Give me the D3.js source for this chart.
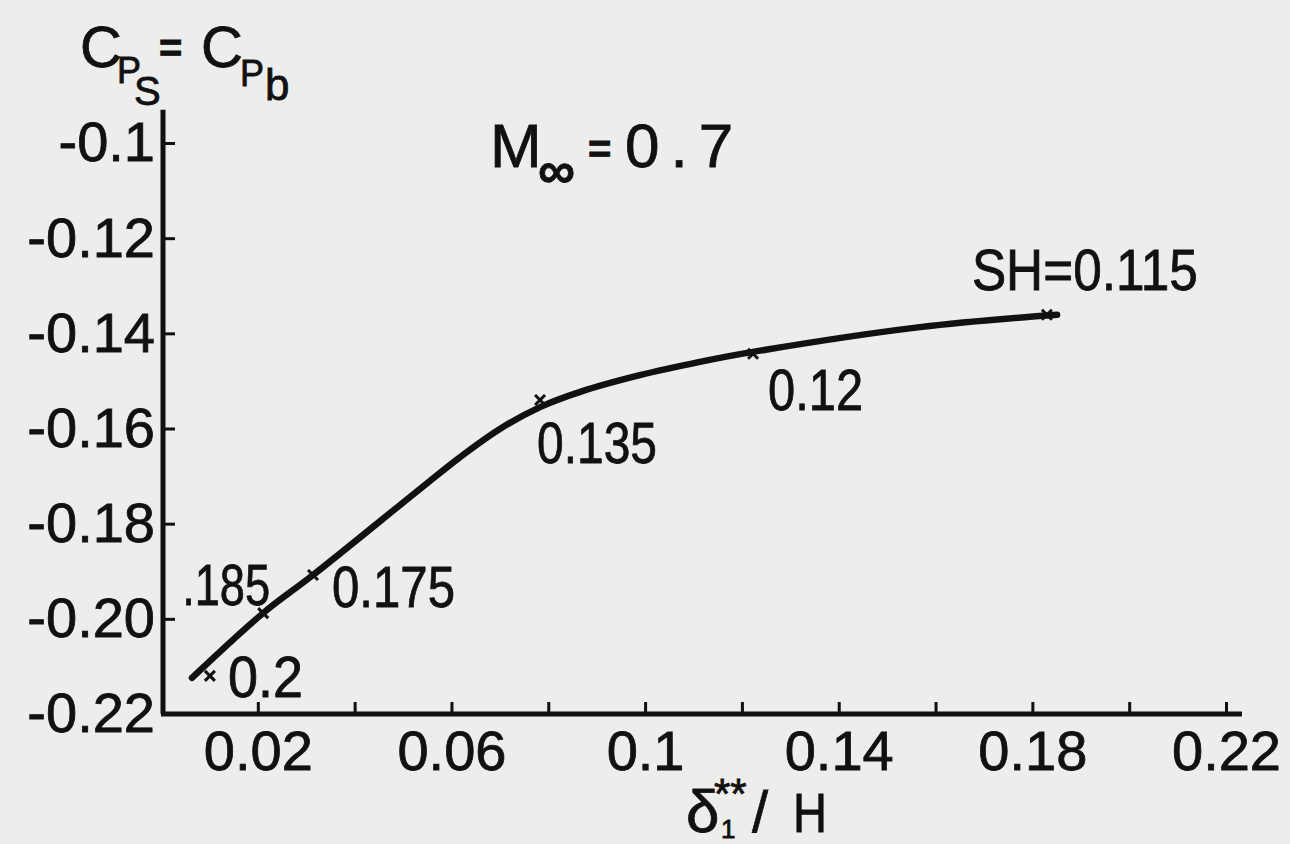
<!DOCTYPE html>
<html>
<head>
<meta charset="utf-8">
<script src="https://cdn.jsdelivr.net/npm/d3@7"></script>
<style>
  body { margin: 0; background: #ededeb; }
  svg { display: block; }
  text { font-family: "Liberation Sans", Arial, sans-serif; fill: #111; stroke: #111; stroke-width: 0.8px; }
</style>
</head>
<body>
<svg id="chart"></svg>
<script>
// Measured points: x = delta_1** / H, y = Cps = Cpb, with the SH value of each
const pointX = [0.0101, 0.0211, 0.0314, 0.0783, 0.1223, 0.1830];
const pointY = [-0.2120, -0.1988, -0.1908, -0.1540, -0.1443, -0.1361];
const pointLabels = ['0.2', '.185', '0.175', '0.135', '0.12', 'SH=0.115'];

// Faired curve
const curveX = [0.0064, 0.0211, 0.0314, 0.0535, 0.0618, 0.0700, 0.0783, 0.0866, 0.0989, 0.1113, 0.1223, 0.1568, 0.1851];
const curveY = [-0.2124, -0.1988, -0.1908, -0.1727, -0.1660, -0.1601, -0.1555, -0.1523, -0.1488, -0.1460, -0.1439, -0.1387, -0.1361];

// Axes
const xTicks = [0.02, 0.04, 0.06, 0.08, 0.1, 0.12, 0.14, 0.16, 0.18, 0.2, 0.22];
const xTickLabels = ['0.02', '', '0.06', '', '0.1', '', '0.14', '', '0.18', '', '0.22'];
const yTicks = [-0.1, -0.12, -0.14, -0.16, -0.18, -0.2, -0.22];
const yTickLabels = ['-0.1', '-0.12', '-0.14', '-0.16', '-0.18', '-0.20', '-0.22'];

const width = 1290;
const height = 844;
const ink = '#111';

const svg = d3.select('#chart')
  .attr('width', width)
  .attr('height', height);

const x = d3.scaleLinear().domain([0, 0.22]).range([161, 1226]);
const y = d3.scaleLinear().domain([-0.22, -0.1]).range([714, 143]);

// Axis lines run a little past the last tick, like the original drawing
svg.append('line')
  .attr('x1', x(0) + 2).attr('x2', x(0) + 2)
  .attr('y1', y(-0.093)).attr('y2', y(-0.22))
  .attr('stroke', ink).attr('stroke-width', 5);

svg.append('line')
  .attr('x1', x(0)).attr('x2', x(0.2233))
  .attr('y1', y(-0.22)).attr('y2', y(-0.22))
  .attr('stroke', ink).attr('stroke-width', 5);

const xAxis = d3.axisBottom(x)
  .tickValues(xTicks)
  .tickFormat((d, i) => xTickLabels[i])
  .tickSizeInner(-12)
  .tickSizeOuter(0)
  .tickPadding(16);

const yAxis = d3.axisLeft(y)
  .tickValues(yTicks)
  .tickFormat((d, i) => yTickLabels[i])
  .tickSizeInner(-12)
  .tickSizeOuter(0)
  .tickPadding(8);

const gx = svg.append('g')
  .attr('transform', `translate(0, ${y(-0.22)})`)
  .call(xAxis);

const gy = svg.append('g')
  .attr('transform', `translate(${x(0) + 2}, 0)`)
  .call(yAxis);

[gx, gy].forEach(g => {
  g.select('.domain').remove();
  g.selectAll('.tick line').attr('stroke', ink).attr('stroke-width', 3);
  g.selectAll('.tick text')
    .style('font-family', '"Liberation Sans", Arial, sans-serif')
    .style('font-size', '56px')
    .attr('fill', ink);
});
gy.selectAll('.tick').filter(d => d === -0.22).select('line').remove();

// The curve
const curveData = curveX.map((d, i) => ({ x: d, y: curveY[i] }));
const line = d3.line()
  .x(d => x(d.x))
  .y(d => y(d.y))
  .curve(d3.curveCatmullRom.alpha(0.5));

svg.append('path')
  .datum(curveData)
  .attr('d', line)
  .attr('fill', 'none')
  .attr('stroke', ink)
  .attr('stroke-width', 6.5)
  .attr('stroke-linecap', 'round');

// Point marks (small crosses) and their SH labels
const points = pointX.map((d, i) => ({ x: d, y: pointY[i], label: pointLabels[i] }));

svg.append('g').selectAll('path.mark')
  .data(points)
  .join('path')
  .attr('class', 'mark')
  .attr('d', d => {
    const px = x(d.x), py = y(d.y), s = 5;
    return `M${px - s},${py - s}L${px + s},${py + s}M${px - s},${py + s}L${px + s},${py - s}`;
  })
  .attr('stroke', ink)
  .attr('stroke-width', 3);

// label offsets from the point, and the lettered width of each label
const labelLayout = {
  '0.2': { dx: 18, dy: 21, w: 75 },
  '.185': { dx: -81, dy: -8, w: 88 },
  '0.175': { dx: 19, dy: 32, w: 123 },
  '0.135': { dx: -3, dy: 63, w: 120 },
  '0.12': { dx: 15, dy: 56, w: 95 },
  'SH=0.115': { dx: -75, dy: -25, w: 226 }
};

svg.append('g').selectAll('text.point-label')
  .data(points)
  .join('text')
  .attr('class', 'point-label')
  .attr('x', d => x(d.x) + labelLayout[d.label].dx)
  .attr('y', d => y(d.y) + labelLayout[d.label].dy)
  .attr('textLength', d => labelLayout[d.label].w)
  .attr('lengthAdjust', 'spacingAndGlyphs')
  .style('font-size', '57px')
  .text(d => d.label);

// Title: M∞ = 0.7
const title = svg.append('g');
title.append('text').attr('x', 490).attr('y', 167).style('font-size', '62px').text('M');
title.append('text').attr('x', 538).attr('y', 188).style('font-size', '52px').style('font-weight', 'bold').text('\u221E');
title.append('text').attr('x', 588).attr('y', 163).style('font-size', '40px').style('font-weight', 'bold').text('=');
title.append('text').attr('x', 625).attr('y', 167).style('font-size', '62px')
  .style('letter-spacing', '11px').text('0.7');

// Y axis title: C_PS = C_Pb
const yTitle = svg.append('g');
yTitle.append('text').attr('x', 80).attr('y', 67).style('font-size', '58px').text('C');
yTitle.append('text').attr('x', 117).attr('y', 83).style('font-size', '36px').text('P');
yTitle.append('text').attr('x', 134).attr('y', 105).style('font-size', '40px').text('S');
yTitle.append('text').attr('x', 159).attr('y', 62).style('font-size', '40px').style('font-weight', 'bold').text('=');
yTitle.append('text').attr('x', 201).attr('y', 67).style('font-size', '58px').text('C');
yTitle.append('text').attr('x', 240).attr('y', 86).style('font-size', '36px').text('P');
yTitle.append('text').attr('x', 265).attr('y', 100).style('font-size', '44px').text('b');

// X axis title: δ1** / H
const xTitle = svg.append('g');
xTitle.append('text').attr('x', 686).attr('y', 832).style('font-size', '60px').text('\u03B4');
xTitle.append('text').attr('x', 721).attr('y', 838).style('font-size', '26px').text('1');
xTitle.append('text').attr('x', 714).attr('y', 808).style('font-size', '42px').text('**');
xTitle.append('text').attr('x', 752).attr('y', 832).style('font-size', '58px').text('/');
xTitle.append('text').attr('x', 793).attr('y', 832).style('font-size', '56px')
  .attr('textLength', 34).attr('lengthAdjust', 'spacingAndGlyphs').text('H');
</script>
</body>
</html>
